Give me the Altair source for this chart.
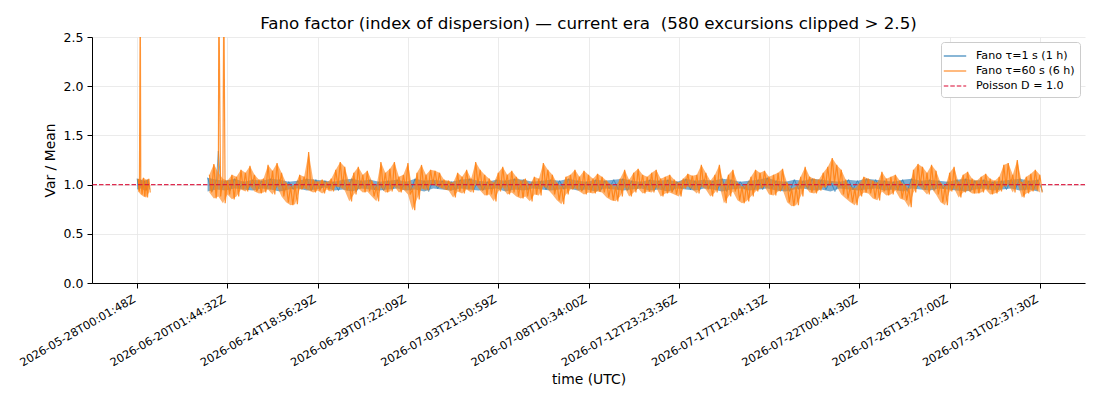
import altair as alt
import pandas as pd

# ---------------- data ----------------
TICK_IDX = [0, 100, 200, 300, 400, 500, 600, 700, 800, 900, 1000]
TICK_LABELS = [
    "2026-05-28T00:01:48Z", "2026-06-20T01:44:32Z", "2026-06-24T18:56:29Z",
    "2026-06-29T07:22:09Z", "2026-07-03T21:50:59Z", "2026-07-08T10:34:00Z",
    "2026-07-12T23:23:36Z", "2026-07-17T12:04:13Z", "2026-07-22T00:44:30Z",
    "2026-07-26T13:27:00Z", "2026-07-31T02:37:30Z",
]

SERIES = ["Fano τ=1 s (1 h)", "Fano τ=60 s (6 h)", "Poisson D = 1.0"]
POISSON_D = 1.0

# first (short) segment, sample index
S1_BLUE_X = [0, 4, 8, 12]
S1_BLUE_HI = [1.06, 1.05, 1.04, 1.05]
S1_BLUE_LO = [0.95, 0.96, 0.94, 0.95]
S1_ORANGE_X = [1, 4, 7, 10, 13]
S1_ORANGE_HI = [1.06, 1.04, 1.07, 1.05, 1.06]
S1_ORANGE_LO = [0.93, 0.90, 0.88, 0.87, 0.92]

# second segment: blue bins every 10 samples from 78, orange bins every 5 from 80
BLUE_START, BLUE_STEP = 78, 10
BLUE_HI = [
    1.07, 1.05, 1.04, 1.06, 1.03, 1.05, 1.04, 1.06, 1.05, 1.03,
    1.04, 1.06, 1.05, 1.04, 1.03, 1.05, 1.06, 1.04, 1.05, 1.03,
    1.04, 1.05, 1.03, 1.06, 1.04, 1.05, 1.04, 1.03, 1.05, 1.06,
    1.04, 1.03, 1.05, 1.04, 1.06, 1.05, 1.03, 1.04, 1.05, 1.04,
    1.06, 1.04, 1.03, 1.05, 1.04, 1.05, 1.06, 1.04, 1.03, 1.05,
    1.04, 1.05, 1.03, 1.06, 1.04, 1.05, 1.04, 1.06, 1.05, 1.03,
    1.04, 1.05, 1.07, 1.04, 1.03, 1.05, 1.04, 1.06, 1.05, 1.04,
    1.03, 1.05, 1.04, 1.06, 1.05, 1.04, 1.03, 1.05, 1.06, 1.04,
    1.05, 1.04, 1.03, 1.05, 1.06, 1.04, 1.05, 1.03, 1.04, 1.05,
    1.06, 1.04, 1.05,
]
BLUE_LO = [
    0.93, 0.95, 0.94, 0.96, 0.95, 0.94, 0.96, 0.95, 0.93, 0.95,
    0.96, 0.94, 0.95, 0.97, 0.94, 0.95, 0.93, 0.96, 0.95, 0.94,
    0.95, 0.96, 0.94, 0.95, 0.93, 0.96, 0.95, 0.94, 0.96, 0.95,
    0.94, 0.95, 0.96, 0.93, 0.95, 0.94, 0.96, 0.95, 0.94, 0.95,
    0.96, 0.94, 0.95, 0.93, 0.96, 0.95, 0.94, 0.95, 0.96, 0.94,
    0.95, 0.93, 0.96, 0.95, 0.94, 0.96, 0.95, 0.93, 0.95, 0.96,
    0.94, 0.95, 0.96, 0.94, 0.93, 0.95, 0.96, 0.94, 0.95, 0.93,
    0.96, 0.95, 0.94, 0.95, 0.96, 0.94, 0.95, 0.93, 0.96, 0.95,
    0.94, 0.96, 0.95, 0.94, 0.93, 0.95, 0.96, 0.94, 0.95, 0.96,
    0.94, 0.95, 0.93,
]

ORANGE_START, ORANGE_STEP = 80, 5
ORANGE_HI = [
    1.10, 1.21, 1.12, 1.06, 1.04, 1.10, 1.08, 1.15, 1.12, 1.19,
    1.10, 1.05, 1.06, 1.20, 1.14, 1.22, 1.12, 1.02, 0.98, 1.00,
    1.10, 1.08, 1.33, 1.05, 1.03, 1.05, 1.02, 1.06, 1.15, 1.23,
    1.18, 1.02, 1.12, 1.18, 1.10, 1.14, 1.04, 0.98, 1.23, 1.12,
    1.16, 1.23, 1.08, 1.10, 1.22, 0.95, 1.12, 1.20, 1.10, 1.15,
    1.14, 1.12, 1.05, 1.04, 1.02, 1.12, 1.08, 1.15, 1.06, 1.23,
    1.15, 1.10, 1.06, 1.02, 1.12, 1.18, 1.10, 1.14, 1.08, 1.04,
    1.06, 1.00, 1.08, 1.06, 1.22, 1.15, 1.10, 1.02, 0.98, 1.08,
    1.10, 1.15, 1.08, 1.14, 1.10, 1.06, 1.11, 1.08, 1.04, 1.00,
    0.98, 1.06, 1.15, 1.05, 1.12, 1.16, 1.10, 1.08, 1.12, 1.15,
    1.06, 1.08, 1.10, 1.05, 1.02, 1.06, 1.11, 1.09, 1.10, 1.20,
    1.12, 1.04, 1.10, 1.20, 1.00, 1.10, 1.15, 1.02, 0.98, 1.00,
    1.08, 1.15, 1.12, 1.14, 1.08, 1.10, 1.12, 1.16, 1.02, 0.96,
    0.98, 1.08, 1.18, 1.08, 1.06, 1.05, 1.12, 1.18, 1.27, 1.20,
    1.15, 1.05, 0.98, 0.96, 1.01, 1.08, 1.06, 1.04, 1.02, 1.13,
    1.06, 1.08, 1.10, 1.04, 1.00, 0.96, 1.15, 1.21, 1.18, 1.12,
    1.20, 1.14, 1.02, 0.98, 1.12, 1.18, 1.02, 1.10, 1.13, 1.06,
    1.04, 1.08, 1.11, 1.06, 1.04, 1.08, 1.20, 1.22, 1.10, 1.25,
    1.02, 1.08, 1.11, 1.15, 1.10,
]
ORANGE_LO = [
    0.92, 0.86, 0.88, 0.81, 0.90, 0.85, 0.88, 0.95, 0.93, 0.98,
    0.93, 0.91, 0.92, 0.95, 0.90, 0.98, 0.88, 0.82, 0.79, 0.80,
    0.95, 0.96, 0.94, 0.92, 0.94, 0.91, 0.95, 0.93, 0.98, 0.97,
    0.94, 0.83, 0.90, 0.96, 0.92, 0.93, 0.88, 0.83, 0.97, 0.92,
    0.93, 0.98, 0.92, 0.95, 0.90, 0.74, 0.85, 0.96, 0.94, 1.00,
    0.99, 0.97, 0.95, 0.94, 0.87, 0.93, 0.91, 0.95, 0.92, 1.00,
    0.94, 0.89, 0.90, 0.83, 0.93, 0.97, 0.90, 0.92, 0.88, 0.86,
    0.88, 0.83, 0.90, 0.89, 0.98, 0.95, 0.90, 0.84, 0.80, 0.90,
    0.95, 0.96, 0.93, 0.90, 0.92, 0.91, 0.93, 0.92, 0.87, 0.84,
    0.83, 0.88, 0.97, 0.88, 0.92, 0.96, 0.91, 0.93, 0.92, 0.97,
    0.88, 0.91, 0.92, 0.90, 0.88, 0.96, 0.98, 0.95, 0.91, 0.98,
    0.95, 0.88, 0.92, 0.99, 0.81, 0.88, 0.93, 0.84, 0.81, 0.83,
    0.88, 0.93, 0.96, 0.98, 0.90, 0.89, 0.93, 0.95, 0.82, 0.78,
    0.79, 0.88, 0.98, 0.92, 0.91, 0.94, 0.97, 0.99, 1.02, 0.98,
    0.90, 0.86, 0.82, 0.79, 0.88, 0.92, 0.91, 0.86, 0.84, 0.93,
    0.89, 0.90, 0.94, 0.86, 0.84, 0.77, 0.92, 0.99, 0.95, 0.90,
    0.96, 0.90, 0.82, 0.79, 0.93, 0.96, 0.87, 0.92, 0.94, 0.91,
    0.91, 0.92, 0.95, 0.90, 0.91, 0.93, 0.98, 1.00, 0.92, 1.02,
    0.87, 0.91, 0.93, 0.95, 0.92,
]

# excursions (those above 2.5 are clipped): sample index and value
BLUE_SPIKE_X, BLUE_SPIKE_Y = [90], [1.34]
ORANGE_SPIKE_X, ORANGE_SPIKE_Y = [3.5, 90.5, 96], [3.0, 3.0, 3.0]

COLORS = ["#1f77b4", "#ff7f0e", "crimson"]
FONT = "DejaVu Sans"


# ---------------- build tables ----------------
def band(seg, xs, lo, hi):
    return pd.DataFrame({"x": xs, "lo": lo, "hi": hi, "seg": seg})


def zig(seg, xs, lo, hi, step, name, spikes):
    rows = []
    for x, l, h in zip(xs, lo, hi):
        rows.append((x, h))
        rows.append((x + step / 2, l))
    rows.extend(spikes)
    rows.sort()
    return pd.DataFrame({"x": [r[0] for r in rows], "y": [r[1] for r in rows],
                         "seg": seg, "series": name})


blue_x2 = [BLUE_START + BLUE_STEP * i for i in range(len(BLUE_HI))]
orange_x2 = [ORANGE_START + ORANGE_STEP * i for i in range(len(ORANGE_HI))]

blue_band = pd.concat([band(1, S1_BLUE_X, S1_BLUE_LO, S1_BLUE_HI),
                       band(2, blue_x2, BLUE_LO, BLUE_HI)])
orange_band = pd.concat([band(1, S1_ORANGE_X, S1_ORANGE_LO, S1_ORANGE_HI),
                         band(2, orange_x2, ORANGE_LO, ORANGE_HI)])

bsp = list(zip(BLUE_SPIKE_X, BLUE_SPIKE_Y))
osp = list(zip(ORANGE_SPIKE_X, ORANGE_SPIKE_Y))

blue_line = pd.concat([
    zig(1, S1_BLUE_X, S1_BLUE_LO, S1_BLUE_HI, 4, SERIES[0], [p for p in bsp if p[0] < 50]),
    zig(2, blue_x2, BLUE_LO, BLUE_HI, BLUE_STEP, SERIES[0], [p for p in bsp if p[0] >= 50]),
])
orange_line = pd.concat([
    zig(1, S1_ORANGE_X, S1_ORANGE_LO, S1_ORANGE_HI, 3, SERIES[1], [p for p in osp if p[0] < 50]),
    zig(2, orange_x2, ORANGE_LO, ORANGE_HI, ORANGE_STEP, SERIES[1], [p for p in osp if p[0] >= 50]),
])
poisson = pd.DataFrame({"y": [POISSON_D], "series": [SERIES[2]]})

# ---------------- encodings ----------------
label_map = "{" + ", ".join(f"'{i}': '{t}'" for i, t in zip(TICK_IDX, TICK_LABELS)) + "}"

x_enc = alt.X(
    "x:Q",
    scale=alt.Scale(domain=[-50, 1050], nice=False, zero=False),
    axis=alt.Axis(
        values=TICK_IDX, title="time (UTC)",
        labelExpr=f"{label_map}[toString(datum.value)]",
        labelAngle=-30, labelAlign="right", labelBaseline="top",
        labelOffset=-6, labelFontSize=11.3, labelPadding=5,
        titlePadding=4, labelOverlap=False,
    ),
)
y_scale = alt.Scale(domain=[0, 2.5], nice=False, zero=True)
y_axis = alt.Axis(values=[0, 0.5, 1.0, 1.5, 2.0, 2.5], format=".1f",
                  title="Var / Mean", labelPadding=4, titlePadding=6,
                  labelFontSize=12.5)

legend_props = dict(title=None, orient="top-right", offset=5,
                    symbolType="M-1.4,0H1.4", symbolSize=256, symbolStrokeWidth=1.5,
                    labelFontSize=11.1, labelFont=FONT, labelColor="black",
                    rowPadding=0, padding=5, fillColor="white",
                    strokeColor="#cccccc", cornerRadius=3, labelOffset=12)

color_enc = alt.Color("series:N", scale=alt.Scale(domain=SERIES, range=COLORS),
                      legend=alt.Legend(**legend_props))
dash_enc = alt.StrokeDash(
    "series:N",
    scale=alt.Scale(domain=SERIES, range=[[1, 0], [1, 0], [4.5, 2]]),
    legend=alt.Legend(**legend_props),
)

blue_area = alt.Chart(blue_band).mark_area(color=COLORS[0], opacity=0.6, clip=True).encode(
    x=x_enc, y=alt.Y("lo:Q", scale=y_scale, axis=y_axis), y2="hi:Q", detail="seg:N")
blue_ln = alt.Chart(blue_line).mark_line(strokeWidth=1.0, opacity=0.7, clip=True).encode(
    x=x_enc, y=alt.Y("y:Q", scale=y_scale, axis=y_axis), color=color_enc,
    strokeDash=dash_enc, detail="seg:N")
orange_area = alt.Chart(orange_band).mark_area(color=COLORS[1], opacity=0.6, clip=True).encode(
    x=x_enc, y=alt.Y("lo:Q", scale=y_scale, axis=y_axis), y2="hi:Q", detail="seg:N")
orange_ln = alt.Chart(orange_line).mark_line(strokeWidth=1.2, opacity=0.85, clip=True).encode(
    x=x_enc, y=alt.Y("y:Q", scale=y_scale, axis=y_axis), color=color_enc,
    strokeDash=dash_enc, detail="seg:N")
rule = alt.Chart(poisson).mark_rule(strokeWidth=1.2, opacity=0.9).encode(
    y=alt.Y("y:Q", scale=y_scale, axis=y_axis), color=color_enc, strokeDash=dash_enc)

chart = alt.layer(blue_area, blue_ln, orange_area, orange_ln, rule).properties(
    width=993, height=246,
    padding={"left": 84, "top": 29, "right": 7, "bottom": 110},
    autosize=alt.AutoSizeParams(type="none"),
    title=alt.Title(
        "Fano factor (index of dispersion) — current era \u00a0(580 excursions clipped > 2.5)",
        fontSize=16.7, fontWeight="normal", offset=-2, frame="group",
        font=FONT, color="black"),
).configure_view(stroke=None).configure_axis(
    labelFont=FONT, titleFont=FONT, titleFontSize=13.9,
    titleFontWeight="normal", labelColor="black", titleColor="black",
    domainColor="black", domainWidth=1, tickColor="black", tickSize=5, tickWidth=1,
    gridColor="#e6e6e6", gridWidth=0.8,
).configure_legend(labelFont=FONT, labelFontSize=11.1, labelColor="black")

chart.save("out.html", embed_options={"renderer": "svg", "actions": False})
